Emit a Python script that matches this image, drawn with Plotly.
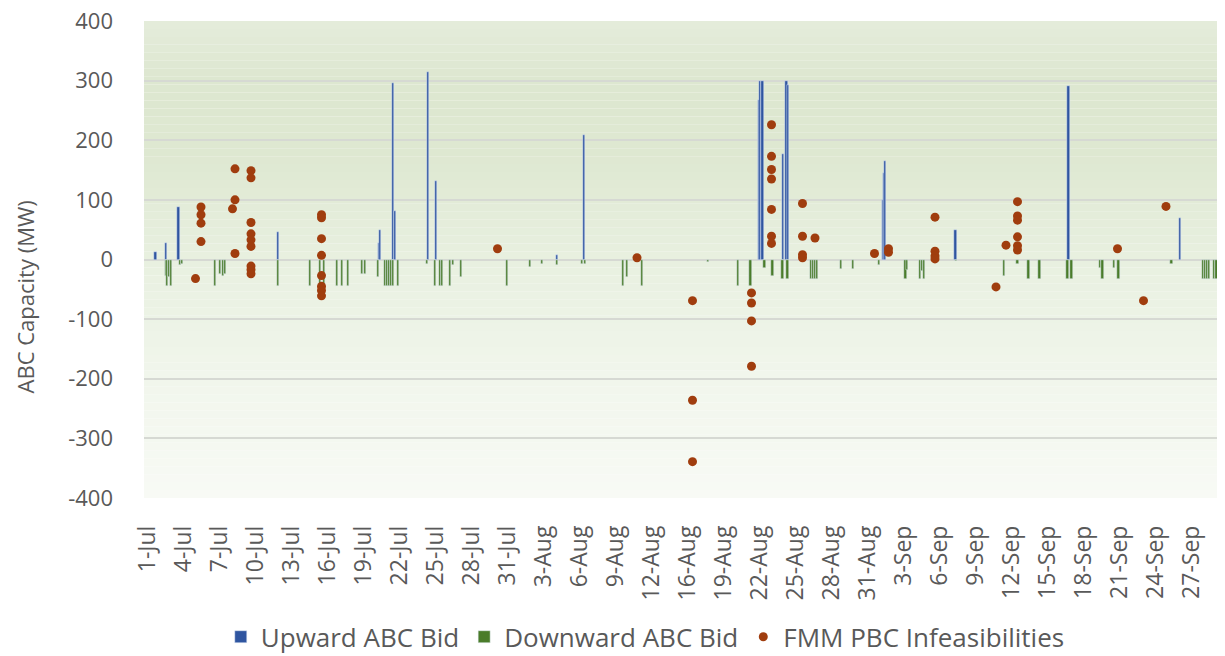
import pandas as pd
import plotly.graph_objects as go

# upward ABC bids (MW) by hour
up_time = ["2023-07-01 15:00", "2023-07-02 12:00", "2023-07-03 13:00", "2023-07-11 20:00",
           "2023-07-20 06:00", "2023-07-20 08:00", "2023-07-21 10:00", "2023-07-21 14:00",
           "2023-07-24 08:00", "2023-07-25 00:00", "2023-08-04 02:00", "2023-08-06 08:00",
           "2023-08-21 22:00", "2023-08-22 00:00", "2023-08-22 05:00", "2023-08-23 22:00",
           "2023-08-24 05:00", "2023-08-24 08:00", "2023-09-01 06:00", "2023-09-01 08:00",
           "2023-09-01 10:00", "2023-09-07 07:00", "2023-09-16 17:00", "2023-09-26 00:00"]
up_mw = [12, 27, 88, 46, 28, 50, 296, 81, 314, 131, 8, 208,
         268, 300, 300, 177, 300, 293, 100, 145, 165, 50, 291, 70]

# downward ABC bids (MW)
down_time = ["2023-07-02 12:00", "2023-07-02 14:00", "2023-07-02 18:00", "2023-07-02 22:00",
             "2023-07-03 16:00", "2023-07-03 20:00", "2023-07-06 14:00", "2023-07-07 00:00",
             "2023-07-07 06:00", "2023-07-07 10:00", "2023-07-11 20:00", "2023-07-14 12:00",
             "2023-07-15 08:00", "2023-07-15 16:00", "2023-07-16 18:00", "2023-07-17 04:00",
             "2023-07-17 16:00", "2023-07-18 20:00", "2023-07-19 02:00", "2023-07-20 04:00",
             "2023-07-20 18:00", "2023-07-20 22:00", "2023-07-21 02:00", "2023-07-21 06:00",
             "2023-07-21 10:00", "2023-07-21 20:00", "2023-07-24 06:00", "2023-07-24 22:00",
             "2023-07-25 08:00", "2023-07-25 12:00", "2023-07-26 04:00", "2023-07-26 10:00",
             "2023-07-27 02:00", "2023-07-30 22:00", "2023-08-01 20:00", "2023-08-02 20:00",
             "2023-08-04 02:00", "2023-08-06 04:00", "2023-08-06 10:00", "2023-08-09 14:00",
             "2023-08-09 22:00", "2023-08-11 04:00", "2023-08-17 16:00", "2023-08-20 04:00",
             "2023-08-21 05:00", "2023-08-22 09:00", "2023-08-23 01:00", "2023-08-23 21:00",
             "2023-08-24 07:00", "2023-08-26 06:00", "2023-08-26 10:00", "2023-08-26 14:00",
             "2023-08-26 18:00", "2023-08-28 18:00", "2023-08-29 18:00", "2023-08-31 22:00",
             "2023-09-03 03:00", "2023-09-03 06:00", "2023-09-04 08:00", "2023-09-04 12:00",
             "2023-09-04 16:00", "2023-09-07 08:00", "2023-09-11 08:00", "2023-09-12 11:00",
             "2023-09-13 09:00", "2023-09-14 07:00", "2023-09-16 15:00", "2023-09-16 23:00",
             "2023-09-19 08:00", "2023-09-19 13:00", "2023-09-20 12:00", "2023-09-20 21:00",
             "2023-09-25 07:00", "2023-09-27 22:00", "2023-09-28 02:00", "2023-09-28 06:00",
             "2023-09-28 10:00", "2023-09-28 20:00", "2023-09-29 01:00", "2023-09-29 08:00"]
down_mw = [-28, -45, -30, -45, -10, -8, -45, -25, -28, -25, -45, -45,
           -45, -45, -45, -45, -45, -25, -25, -30, -45, -45, -45, -45,
           -45, -45, -8, -45, -45, -45, -45, -10, -30, -45, -12, -8,
           -10, -8, -8, -45, -30, -45, -5, -44, -45, -15, -28, -33,
           -33, -33, -33, -33, -33, -16, -16, -10, -33, -18, -32, -20,
           -32, -3, -27, -8, -33, -33, -33, -33, -15, -33, -15, -33,
           -8, -33, -33, -33, -33, -33, -33, -33]

# FMM PBC infeasibilities (MW)
inf_time = ["2023-07-04 23:00",
            "2023-07-05 10:00", "2023-07-05 10:00", "2023-07-05 10:00", "2023-07-05 10:00",
            "2023-07-08 01:00", "2023-07-08 06:00", "2023-07-08 06:00", "2023-07-08 06:00",
            "2023-07-09 14:00", "2023-07-09 14:00", "2023-07-09 14:00", "2023-07-09 14:00",
            "2023-07-09 14:00", "2023-07-09 14:00", "2023-07-09 14:00", "2023-07-09 14:00",
            "2023-07-09 14:00",
            "2023-07-15 11:00", "2023-07-15 11:00", "2023-07-15 11:00", "2023-07-15 11:00",
            "2023-07-15 11:00", "2023-07-15 11:00", "2023-07-15 11:00", "2023-07-15 11:00",
            "2023-07-30 03:00", "2023-08-10 18:00",
            "2023-08-16 09:00", "2023-08-16 09:00", "2023-08-16 09:00",
            "2023-08-21 07:00", "2023-08-21 07:00", "2023-08-21 07:00", "2023-08-21 07:00",
            "2023-08-22 23:00", "2023-08-22 23:00", "2023-08-22 23:00", "2023-08-22 23:00",
            "2023-08-22 23:00", "2023-08-22 23:00", "2023-08-22 23:00",
            "2023-08-25 13:00", "2023-08-25 13:00", "2023-08-25 13:00", "2023-08-25 13:00",
            "2023-08-26 14:00", "2023-08-31 13:00", "2023-09-01 17:00", "2023-09-01 17:00",
            "2023-09-05 14:00", "2023-09-05 14:00", "2023-09-05 14:00", "2023-09-05 14:00",
            "2023-09-10 16:00", "2023-09-11 12:00",
            "2023-09-12 11:00", "2023-09-12 11:00", "2023-09-12 11:00", "2023-09-12 11:00",
            "2023-09-12 11:00", "2023-09-12 11:00",
            "2023-09-20 19:00", "2023-09-22 23:00", "2023-09-24 20:00"]
inf_mw = [-32,
          88, 75, 61, 30,
          85, 152, 100, 10,
          149, 137, 62, 43, 33, 22, -11, -17, -24,
          75, 70, 35, 7, -27, -45, -52, -61,
          18, 3,
          -69, -236, -339,
          -56, -73, -103, -179,
          226, 173, 151, 135, 84, 39, 27,
          94, 39, 8, 3,
          36, 10, 18, 12,
          71, 14, 6, 1,
          -46, 24,
          97, 73, 66, 38, 23, 16,
          18, -69, 89]

tick_labels = ["1-Jul", "4-Jul", "7-Jul", "10-Jul", "13-Jul", "16-Jul", "19-Jul", "22-Jul",
               "25-Jul", "28-Jul", "31-Jul", "3-Aug", "6-Aug", "9-Aug", "12-Aug", "16-Aug",
               "19-Aug", "22-Aug", "25-Aug", "28-Aug", "31-Aug", "3-Sep", "6-Sep", "9-Sep",
               "12-Sep", "15-Sep", "18-Sep", "21-Sep", "24-Sep", "27-Sep"]
missing_day = "2023-08-14"
y_ticks = [-400, -300, -200, -100, 0, 100, 200, 300, 400]

tick_vals = [pd.to_datetime(t + "-2023", format="%d-%b-%Y") for t in tick_labels]

blue = "#2F55A0"
green = "#4A7C2A"
rust = "#A03D0E"
grey = "#595959"
font = "Open Sans"
bar_w = 5.5 * 3600 * 1000  # ms

fig = go.Figure()
fig.add_trace(go.Bar(x=pd.to_datetime(up_time), y=up_mw, name="Upward ABC Bid",
                     marker_color=blue, width=bar_w))
fig.add_trace(go.Bar(x=pd.to_datetime(down_time), y=down_mw, name="Downward ABC Bid",
                     marker_color=green, width=bar_w))
fig.add_trace(go.Scatter(x=pd.to_datetime(inf_time), y=inf_mw, mode="markers",
                         name="FMM PBC Infeasibilities",
                         marker=dict(color=rust, size=9)))

# green gradient behind the plot area, dark near top fading to white
stops = [(0.00, (248, 250, 245)), (0.25, (241, 246, 236)), (0.50, (232, 240, 224)),
         (0.72, (222, 232, 209)), (0.88, (221, 231, 208)), (1.00, (228, 236, 219))]
n = 60
for i in range(n):
    f = (i + 0.5) / n
    for (a, ca), (b, cb) in zip(stops[:-1], stops[1:]):
        if a <= f <= b:
            t = (f - a) / (b - a)
            c = [round(ca[k] + (cb[k] - ca[k]) * t) for k in range(3)]
            break
    fig.add_shape(type="rect", xref="x domain", yref="y domain",
                  x0=0, x1=1, y0=i / n, y1=(i + 1) / n,
                  fillcolor=f"rgb({c[0]},{c[1]},{c[2]})", line_width=0, layer="below")

# axis title sits a little below the middle of the axis, as in the original
fig.add_annotation(text="ABC Capacity (MW)", textangle=-90, showarrow=False,
                   xref="paper", x=-0.1095, xanchor="center",
                   yref="y", y=-62, yanchor="middle",
                   font=dict(size=22, color=grey))

fig.update_layout(
    width=1225, height=656,
    paper_bgcolor="white", plot_bgcolor="rgba(0,0,0,0)",
    margin=dict(l=136, r=11, t=13, b=166, autoexpand=False),
    barmode="overlay", bargap=0,
    font=dict(family=font, color=grey, size=22),
    legend=dict(orientation="h", x=0.465, xanchor="center", y=-0.291, yanchor="middle",
                font=dict(size=26, color=grey), traceorder="normal"),
    showlegend=True,
)
fig.update_xaxes(
    type="date", automargin=False,
    range=["2023-06-30 16:00", "2023-09-29 12:00"],
    rangebreaks=[dict(values=[missing_day])],
    tickvals=tick_vals, ticktext=tick_labels, tickangle=-90,
    tickfont=dict(size=23, color=grey), showgrid=False, zeroline=False,
    showline=False, ticks="", ticklabelstandoff=22,
)
fig.update_yaxes(
    automargin=False, ticklabeloverflow="allow",
    range=[-400, 400], tickvals=y_ticks, ticktext=[str(v) for v in y_ticks],
    tickfont=dict(size=22, color=grey),
    showgrid=True, gridcolor="#d6d9d3", gridwidth=1.5,
    zeroline=True, zerolinecolor="#d6d9d3", zerolinewidth=1.5,
    ticklabelstandoff=30,
)

fig.write_html("out.html")
